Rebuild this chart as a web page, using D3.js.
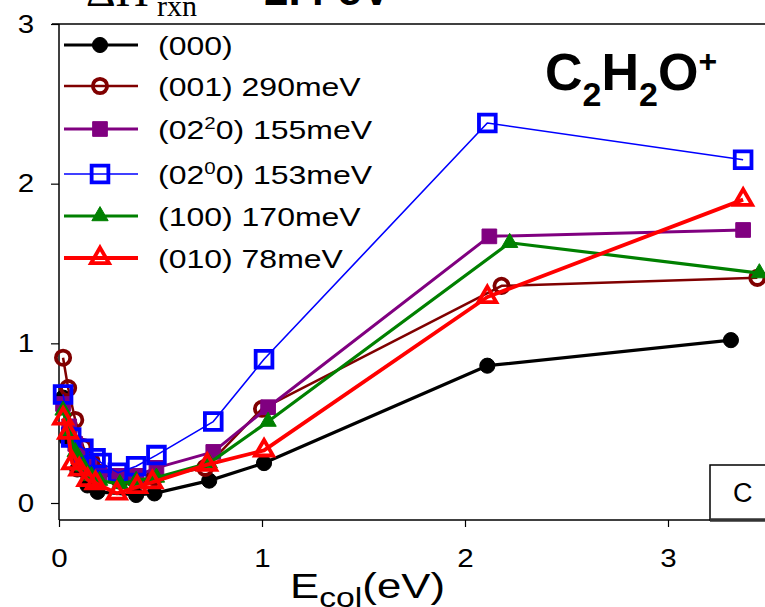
<!DOCTYPE html>
<html>
<head>
<meta charset="utf-8">
<script src="https://cdn.jsdelivr.net/npm/d3@7"></script>
<style>
  body { margin: 0; background: #fff; }
  svg { display: block; font-family: "Liberation Sans", Arial, sans-serif; }
</style>
</head>
<body>
<div id="chart"></div>
<script>
// collision energy (eV) and cross sections, one pair of arrays per vibrational state
let x000 = [0.02, 0.04, 0.09, 0.14, 0.19, 0.38, 0.47, 0.74, 1.01, 2.11, 3.31]
let y000 = [0.66, 0.40, 0.21, 0.11, 0.07, 0.05, 0.06, 0.14, 0.25, 0.86, 1.02]

let x001 = [0.02, 0.045, 0.08, 0.12, 0.16, 0.2, 0.3, 0.38, 0.47, 0.72, 1.0, 2.18, 3.44]
let y001 = [0.91, 0.72, 0.52, 0.35, 0.26, 0.19, 0.14, 0.14, 0.16, 0.22, 0.59, 1.36, 1.41]

let x0220 = [0.02, 0.05, 0.08, 0.11, 0.15, 0.2, 0.29, 0.38, 0.48, 0.76, 1.03, 2.12, 3.37]
let y0220 = [0.62, 0.48, 0.37, 0.29, 0.23, 0.19, 0.17, 0.17, 0.22, 0.32, 0.60, 1.67, 1.71]

let x0200 = [0.02, 0.06, 0.12, 0.18, 0.21, 0.29, 0.38, 0.48, 0.76, 1.01, 2.11, 3.37]
let y0200 = [0.68, 0.41, 0.34, 0.28, 0.25, 0.19, 0.23, 0.30, 0.51, 0.90, 2.38, 2.15]

let x100 = [0.02, 0.05, 0.08, 0.12, 0.16, 0.2, 0.3, 0.38, 0.48, 0.74, 1.03, 2.22, 3.45]
let y100 = [0.58, 0.45, 0.32, 0.23, 0.17, 0.14, 0.12, 0.14, 0.16, 0.25, 0.51, 1.63, 1.44]

let x010 = [0.02, 0.045, 0.065, 0.1, 0.14, 0.18, 0.285, 0.385, 0.46, 0.73, 1.01, 2.11, 3.37]
let y010 = [0.53, 0.44, 0.25, 0.21, 0.145, 0.125, 0.06, 0.10, 0.13, 0.24, 0.33, 1.29, 1.90]

let xTicks = [0, 1, 2, 3]
let yTicks = [0, 1, 2, 3]

// legend text: [before sup, sup, after sup]
let labels = [
  ["(000)", "", ""],
  ["(001) 290meV", "", ""],
  ["(02", "2", "0) 155meV"],
  ["(02", "0", "0) 153meV"],
  ["(100) 170meV", "", ""],
  ["(010) 78meV", "", ""]
]

let series = [
  { xs: x000,  ys: y000,  color: "#000000", marker: "circle",   filled: true,  lw: 3.2 },
  { xs: x001,  ys: y001,  color: "#800000", marker: "circle",   filled: false, lw: 2.5 },
  { xs: x0220, ys: y0220, color: "#800080", marker: "square",   filled: true,  lw: 3 },
  { xs: x0200, ys: y0200, color: "#0000ff", marker: "square",   filled: false, lw: 1.6 },
  { xs: x100,  ys: y100,  color: "#008000", marker: "triangle", filled: true,  lw: 3.2 },
  { xs: x010,  ys: y010,  color: "#ff0000", marker: "triangle", filled: false, lw: 3.8 }
]

let width = 765
    height = 607

// text in the original is a little wider than plain Arial
let stretch = 1.25

let svg = d3.select("#chart")
  .append("svg")
  .attr("width", width)
  .attr("height", height)

let x = d3.scaleLinear().domain([0, 3.5]).range([59, 59 + 3.5 * 203])
let y = d3.scaleLinear().domain([0, 3]).range([503, 24])
let axisY = 520

// symbol sizes (area) for each marker kind
function markerPath(kind, filled) {
  let type = kind == "circle" ? d3.symbolCircle : kind == "square" ? d3.symbolSquare : d3.symbolTriangle
  let size
  if (kind == "circle") size = filled ? 180 : 160
  else if (kind == "square") size = filled ? 215 : 280
  else size = filled ? 115 : 140
  return d3.symbol().type(type).size(size)()
}

function drawMarker(g, s, cx, cy) {
  g.append("path")
    .attr("d", markerPath(s.marker, s.filled))
    .attr("transform", "translate(" + cx + "," + cy + ")")
    .attr("fill", s.filled ? s.color : "none")
    .attr("stroke", s.color)
    .attr("stroke-width", s.filled ? 1 : 3.8)
}

// title partly cut off at the top
svg.append("text")
  .attr("x", 86).attr("y", 6)
  .style("font-family", "'Liberation Serif', 'Times New Roman', serif")
  .style("font-size", "46px")
  .text("ΔH")
svg.append("text")
  .attr("x", 157).attr("y", 16)
  .style("font-family", "'Liberation Serif', 'Times New Roman', serif")
  .style("font-size", "30px")
  .text("rxn")
svg.append("text")
  .attr("x", 226).attr("y", 5)
  .style("font-size", "44px")
  .style("font-weight", "bold")
  .text("= 2.4 eV")

// frame
svg.append("line")
  .attr("x1", 52).attr("x2", width).attr("y1", 24).attr("y2", 24)
  .attr("stroke", "#000").attr("stroke-width", 1.5)

let yAxis = svg.append("g")
  .attr("transform", "translate(59,0)")
  .call(d3.axisLeft(y).tickValues(yTicks).tickSize(8).tickPadding(13).tickSizeOuter(0).tickFormat(d3.format("d")))
yAxis.select(".domain").attr("d", "M0,24V" + axisY).attr("stroke-width", 1.5)
yAxis.selectAll(".tick line").attr("stroke-width", 1.2)
yAxis.selectAll("text")
  .style("font-size", "25px")
  .style("font-family", "'Liberation Sans', Arial, sans-serif")
  .attr("fill", "#000")
  .attr("transform", "scale(1.18,1)")

let xAxis = svg.append("g")
  .attr("transform", "translate(0," + axisY + ")")
  .call(d3.axisBottom(x).tickValues(xTicks).tickSize(7).tickPadding(22).tickSizeOuter(0).tickFormat(d3.format("d")))
xAxis.select(".domain").attr("d", "M59,0H" + width).attr("stroke-width", 1.5)
xAxis.selectAll(".tick line").attr("stroke-width", 1.2)
xAxis.selectAll("text")
  .style("font-size", "25px")
  .style("font-family", "'Liberation Sans', Arial, sans-serif")
  .attr("fill", "#000")
  .attr("transform", "scale(1.18,1)")

// x axis title
let xt = svg.append("text")
  .attr("transform", "translate(290,598) scale(" + stretch + ",1)")
  .style("font-size", "35px")
xt.append("tspan").text("E")
xt.append("tspan").attr("dy", 9).style("font-size", "27px").text("col")
xt.append("tspan").attr("dy", -9).text("(eV)")

// lines and markers
let line = d3.line()
  .x(d => x(d[0]))
  .y(d => y(d[1]))

let plot = svg.append("g")
series.forEach(s => {
  let pts = s.xs.map((v, i) => [v, s.ys[i]])
  plot.append("path")
    .attr("d", line(pts))
    .attr("fill", "none")
    .attr("stroke", s.color)
    .attr("stroke-width", s.lw)
    .attr("stroke-linejoin", "round")
  let g = plot.append("g")
  pts.forEach(p => drawMarker(g, s, x(p[0]), y(p[1])))
})

// legend
let rowY = [45, 86, 129, 174, 216, 258]
let legend = svg.append("g")
series.forEach((s, i) => {
  legend.append("line")
    .attr("x1", 64).attr("x2", 138)
    .attr("y1", rowY[i]).attr("y2", rowY[i])
    .attr("stroke", s.color)
    .attr("stroke-width", s.lw)
  drawMarker(legend, s, 100, rowY[i])
  let t = legend.append("text")
    .attr("transform", "translate(158," + (rowY[i] + 10) + ") scale(1.28,1)")
    .style("font-size", "25px")
  let lab = labels[i]
  t.append("tspan").text(lab[0])
  if (lab[1] != "") {
    t.append("tspan").attr("dy", -10).style("font-size", "16px").text(lab[1])
    t.append("tspan").attr("dy", 10).text(lab[2])
  }
})

// species label
let sp = svg.append("text")
  .attr("x", 545).attr("y", 90)
  .style("font-size", "52px")
  .style("font-weight", "bold")
sp.append("tspan").text("C")
sp.append("tspan").attr("dy", 16).style("font-size", "34px").text("2")
sp.append("tspan").attr("dy", -16).text("H")
sp.append("tspan").attr("dy", 16).style("font-size", "34px").text("2")
sp.append("tspan").attr("dy", -16).text("O")
sp.append("tspan").attr("dy", -18).style("font-size", "32px").text("+")

// panel tag box
svg.append("rect")
  .attr("x", 710).attr("y", 465)
  .attr("width", 70).attr("height", 55)
  .attr("fill", "#fff")
  .attr("stroke", "#000")
  .attr("stroke-width", 1.5)
svg.append("line")
  .attr("x1", 710).attr("x2", width).attr("y1", 520).attr("y2", 520)
  .attr("stroke", "#333").attr("stroke-width", 3.5)
svg.append("text")
  .attr("x", 733).attr("y", 502)
  .style("font-size", "27px")
  .text("C")
</script>
</body>
</html>
